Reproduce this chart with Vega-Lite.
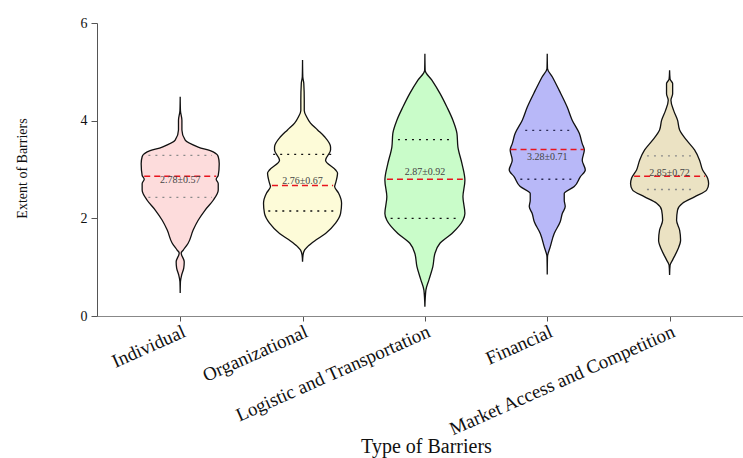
{
  "$schema": "https://vega.github.io/schema/vega-lite/v6.json",
  "autosize": {"type": "none"},
  "padding": {"left": 97, "top": 23, "right": 0, "bottom": 142},
  "width": 646,
  "height": 293,
  "background": "white",
  "config": {
    "view": {"stroke": null},
    "font": "Liberation Serif",
    "axis": {"grid": false, "labelFont": "Liberation Serif", "titleFont": "Liberation Serif", "labelColor": "#111", "titleColor": "#111", "titleFontWeight": "normal"}
  },
  "datasets": {
    "violin": [
      {"b": "Individual", "v": 0.47, "w": 0},
      {"b": "Individual", "v": 0.70, "w": 0.002},
      {"b": "Individual", "v": 0.84, "w": 0.012},
      {"b": "Individual", "v": 0.98, "w": 0.029},
      {"b": "Individual", "v": 1.11, "w": 0.033},
      {"b": "Individual", "v": 1.29, "w": 0.008},
      {"b": "Individual", "v": 1.35, "w": 0.025},
      {"b": "Individual", "v": 1.49, "w": 0.065},
      {"b": "Individual", "v": 1.76, "w": 0.106},
      {"b": "Individual", "v": 1.96, "w": 0.147},
      {"b": "Individual", "v": 2.17, "w": 0.204},
      {"b": "Individual", "v": 2.37, "w": 0.27},
      {"b": "Individual", "v": 2.58, "w": 0.311},
      {"b": "Individual", "v": 2.71, "w": 0.311},
      {"b": "Individual", "v": 2.80, "w": 0.294},
      {"b": "Individual", "v": 2.88, "w": 0.311},
      {"b": "Individual", "v": 3.12, "w": 0.319},
      {"b": "Individual", "v": 3.26, "w": 0.311},
      {"b": "Individual", "v": 3.36, "w": 0.27},
      {"b": "Individual", "v": 3.46, "w": 0.147},
      {"b": "Individual", "v": 3.60, "w": 0.041},
      {"b": "Individual", "v": 3.81, "w": 0.014},
      {"b": "Individual", "v": 4.01, "w": 0.014},
      {"b": "Individual", "v": 4.21, "w": 0.002},
      {"b": "Individual", "v": 4.49, "w": 0},
      {"b": "Organizational", "v": 1.11, "w": 0},
      {"b": "Organizational", "v": 1.25, "w": 0.004},
      {"b": "Organizational", "v": 1.35, "w": 0.016},
      {"b": "Organizational", "v": 1.42, "w": 0.041},
      {"b": "Organizational", "v": 1.55, "w": 0.106},
      {"b": "Organizational", "v": 1.69, "w": 0.188},
      {"b": "Organizational", "v": 1.90, "w": 0.27},
      {"b": "Organizational", "v": 2.10, "w": 0.311},
      {"b": "Organizational", "v": 2.31, "w": 0.319},
      {"b": "Organizational", "v": 2.52, "w": 0.294},
      {"b": "Organizational", "v": 2.65, "w": 0.262},
      {"b": "Organizational", "v": 2.72, "w": 0.27},
      {"b": "Organizational", "v": 2.93, "w": 0.286},
      {"b": "Organizational", "v": 2.99, "w": 0.27},
      {"b": "Organizational", "v": 3.19, "w": 0.188},
      {"b": "Organizational", "v": 3.40, "w": 0.229},
      {"b": "Organizational", "v": 3.46, "w": 0.229},
      {"b": "Organizational", "v": 3.67, "w": 0.18},
      {"b": "Organizational", "v": 3.81, "w": 0.123},
      {"b": "Organizational", "v": 3.95, "w": 0.065},
      {"b": "Organizational", "v": 4.08, "w": 0.033},
      {"b": "Organizational", "v": 4.21, "w": 0.014},
      {"b": "Organizational", "v": 4.42, "w": 0.014},
      {"b": "Organizational", "v": 4.77, "w": 0.01},
      {"b": "Organizational", "v": 4.90, "w": 0.002},
      {"b": "Organizational", "v": 5.24, "w": 0},
      {"b": "Logistic and Transportation", "v": 0.19, "w": 0},
      {"b": "Logistic and Transportation", "v": 0.53, "w": 0.008},
      {"b": "Logistic and Transportation", "v": 0.74, "w": 0.033},
      {"b": "Logistic and Transportation", "v": 1.01, "w": 0.065},
      {"b": "Logistic and Transportation", "v": 1.28, "w": 0.082},
      {"b": "Logistic and Transportation", "v": 1.49, "w": 0.123},
      {"b": "Logistic and Transportation", "v": 1.69, "w": 0.221},
      {"b": "Logistic and Transportation", "v": 1.96, "w": 0.311},
      {"b": "Logistic and Transportation", "v": 2.10, "w": 0.327},
      {"b": "Logistic and Transportation", "v": 2.44, "w": 0.311},
      {"b": "Logistic and Transportation", "v": 2.78, "w": 0.327},
      {"b": "Logistic and Transportation", "v": 3.12, "w": 0.303},
      {"b": "Logistic and Transportation", "v": 3.46, "w": 0.27},
      {"b": "Logistic and Transportation", "v": 3.74, "w": 0.262},
      {"b": "Logistic and Transportation", "v": 4.01, "w": 0.229},
      {"b": "Logistic and Transportation", "v": 4.28, "w": 0.18},
      {"b": "Logistic and Transportation", "v": 4.56, "w": 0.123},
      {"b": "Logistic and Transportation", "v": 4.83, "w": 0.057},
      {"b": "Logistic and Transportation", "v": 5.03, "w": 0.002},
      {"b": "Logistic and Transportation", "v": 5.37, "w": 0},
      {"b": "Financial", "v": 0.85, "w": 0},
      {"b": "Financial", "v": 1.21, "w": 0.002},
      {"b": "Financial", "v": 1.42, "w": 0.025},
      {"b": "Financial", "v": 1.69, "w": 0.057},
      {"b": "Financial", "v": 1.93, "w": 0.106},
      {"b": "Financial", "v": 2.10, "w": 0.123},
      {"b": "Financial", "v": 2.24, "w": 0.147},
      {"b": "Financial", "v": 2.37, "w": 0.139},
      {"b": "Financial", "v": 2.51, "w": 0.139},
      {"b": "Financial", "v": 2.65, "w": 0.221},
      {"b": "Financial", "v": 2.85, "w": 0.27},
      {"b": "Financial", "v": 2.99, "w": 0.311},
      {"b": "Financial", "v": 3.19, "w": 0.286},
      {"b": "Financial", "v": 3.40, "w": 0.303},
      {"b": "Financial", "v": 3.53, "w": 0.286},
      {"b": "Financial", "v": 3.74, "w": 0.262},
      {"b": "Financial", "v": 4.01, "w": 0.204},
      {"b": "Financial", "v": 4.28, "w": 0.163},
      {"b": "Financial", "v": 4.62, "w": 0.098},
      {"b": "Financial", "v": 4.90, "w": 0.041},
      {"b": "Financial", "v": 5.07, "w": 0.002},
      {"b": "Financial", "v": 5.37, "w": 0},
      {"b": "Market Access and Competition", "v": 0.84, "w": 0},
      {"b": "Market Access and Competition", "v": 1.04, "w": 0.004},
      {"b": "Market Access and Competition", "v": 1.15, "w": 0.025},
      {"b": "Market Access and Competition", "v": 1.35, "w": 0.065},
      {"b": "Market Access and Competition", "v": 1.55, "w": 0.09},
      {"b": "Market Access and Competition", "v": 1.76, "w": 0.082},
      {"b": "Market Access and Competition", "v": 1.96, "w": 0.057},
      {"b": "Market Access and Competition", "v": 2.17, "w": 0.065},
      {"b": "Market Access and Competition", "v": 2.31, "w": 0.106},
      {"b": "Market Access and Competition", "v": 2.44, "w": 0.204},
      {"b": "Market Access and Competition", "v": 2.58, "w": 0.303},
      {"b": "Market Access and Competition", "v": 2.71, "w": 0.319},
      {"b": "Market Access and Competition", "v": 2.82, "w": 0.311},
      {"b": "Market Access and Competition", "v": 2.99, "w": 0.27},
      {"b": "Market Access and Competition", "v": 3.19, "w": 0.245},
      {"b": "Market Access and Competition", "v": 3.40, "w": 0.204},
      {"b": "Market Access and Competition", "v": 3.60, "w": 0.139},
      {"b": "Market Access and Competition", "v": 3.81, "w": 0.082},
      {"b": "Market Access and Competition", "v": 4.01, "w": 0.065},
      {"b": "Market Access and Competition", "v": 4.21, "w": 0.033},
      {"b": "Market Access and Competition", "v": 4.42, "w": 0.011},
      {"b": "Market Access and Competition", "v": 4.55, "w": 0.025},
      {"b": "Market Access and Competition", "v": 4.76, "w": 0.025},
      {"b": "Market Access and Competition", "v": 4.85, "w": 0.004},
      {"b": "Market Access and Competition", "v": 5.03, "w": 0}
    ],
    "quart": [
      {"b": "Individual", "q": "Q1", "v": 2.43, "w": 0.26},
      {"b": "Individual", "q": "Q3", "v": 3.29, "w": 0.26},
      {"b": "Organizational", "q": "Q1", "v": 2.15, "w": 0.28},
      {"b": "Organizational", "q": "Q3", "v": 3.31, "w": 0.24},
      {"b": "Logistic and Transportation", "q": "Q1", "v": 2.00, "w": 0.28},
      {"b": "Logistic and Transportation", "q": "Q3", "v": 3.61, "w": 0.22},
      {"b": "Financial", "q": "Q1", "v": 2.80, "w": 0.22},
      {"b": "Financial", "q": "Q3", "v": 3.80, "w": 0.18},
      {"b": "Market Access and Competition", "q": "Q1", "v": 2.59, "w": 0.185},
      {"b": "Market Access and Competition", "q": "Q3", "v": 3.28, "w": 0.185}
    ],
    "median": [
      {"b": "Individual", "v": 2.86, "w": 0.294},
      {"b": "Organizational", "v": 2.67, "w": 0.25},
      {"b": "Logistic and Transportation", "v": 2.80, "w": 0.31},
      {"b": "Financial", "v": 3.41, "w": 0.30},
      {"b": "Market Access and Competition", "v": 2.86, "w": 0.29}
    ],
    "stats": [
      {"b": "Individual", "mean": 2.78, "label": "2.78±0.57"},
      {"b": "Organizational", "mean": 2.76, "label": "2.76±0.67"},
      {"b": "Logistic and Transportation", "mean": 2.95, "label": "2.87±0.92"},
      {"b": "Financial", "mean": 3.25, "label": "3.28±0.71"},
      {"b": "Market Access and Competition", "mean": 2.92, "label": "2.85±0.72"}
    ]
  },
  "layer": [
    {
      "data": {"name": "violin"},
      "transform": [
        {"calculate": "indexof(['Individual','Organizational','Logistic and Transportation','Financial','Market Access and Competition'], datum.b) + 1", "as": "pos"},
        {"calculate": "datum.pos - datum.w", "as": "lo"},
        {"calculate": "datum.pos + datum.w", "as": "hi"}
      ],
      "mark": {"type": "area", "orient": "horizontal", "interpolate": "monotone", "stroke": "#111", "strokeWidth": 1.3, "fillOpacity": 1},
      "encoding": {
        "y": {"field": "v", "type": "quantitative", "scale": {"domain": [0, 6], "nice": false, "zero": false},
          "axis": {"values": [0, 2, 4, 6], "title": "Extent of Barriers", "titleFontSize": 14, "titleX": -75, "titleY": 145, "titleAlign": "center", "titleBaseline": "middle", "labelFontSize": 14, "labelPadding": 4, "tickSize": 6, "domainColor": "#555", "tickColor": "#555"}},
        "x": {"field": "lo", "type": "quantitative", "scale": {"domain": [0.32, 5.6], "nice": false, "zero": false},
          "axis": {"values": [1, 2, 3, 4, 5], "labelExpr": "['','Individual','Organizational','Logistic and Transportation','Financial','Market Access and Competition'][datum.value]", "labelAngle": -24, "labelAlign": "right", "labelBaseline": "top", "labelFontSize": 19, "labelPadding": 1, "labelLimit": 0, "labelOverlap": false, "labelBound": false, "tickSize": 5, "domainColor": "#888", "tickColor": "#555", "title": "Type of Barriers", "titleFontSize": 20, "titleX": 329, "titleY": 130, "titleAlign": "center", "titleBaseline": "middle"}},
        "x2": {"field": "hi"},
        "fill": {"field": "b", "type": "nominal", "legend": null,
          "scale": {"domain": ["Individual", "Organizational", "Logistic and Transportation", "Financial", "Market Access and Competition"],
                    "range": ["#fddcdc", "#fdfbd8", "#c9fcc9", "#b8b8f8", "#ebe2c3"]}}
      }
    },
    {
      "data": {"name": "quart"},
      "transform": [
        {"calculate": "indexof(['Individual','Organizational','Logistic and Transportation','Financial','Market Access and Competition'], datum.b) + 1", "as": "pos"},
        {"calculate": "datum.pos - datum.w", "as": "lo"},
        {"calculate": "datum.pos + datum.w", "as": "hi"}
      ],
      "mark": {"type": "rule", "strokeDash": [2, 5], "strokeWidth": 1.3},
      "encoding": {
        "y": {"field": "v", "type": "quantitative"},
        "x": {"field": "lo", "type": "quantitative"},
        "x2": {"field": "hi"},
        "stroke": {"field": "b", "type": "nominal", "legend": null,
          "scale": {"domain": ["Individual", "Organizational", "Logistic and Transportation", "Financial", "Market Access and Competition"],
                    "range": ["#8a8a8a", "#111111", "#111111", "#2a2a55", "#8a8a8a"]}}
      }
    },
    {
      "data": {"name": "median"},
      "transform": [
        {"calculate": "indexof(['Individual','Organizational','Logistic and Transportation','Financial','Market Access and Competition'], datum.b) + 1", "as": "pos"},
        {"calculate": "datum.pos - datum.w", "as": "lo"},
        {"calculate": "datum.pos + datum.w", "as": "hi"}
      ],
      "mark": {"type": "rule", "color": "#e8141e", "strokeDash": [6, 4], "strokeWidth": 1.5},
      "encoding": {
        "y": {"field": "v", "type": "quantitative"},
        "x": {"field": "lo", "type": "quantitative"},
        "x2": {"field": "hi"}
      }
    },
    {
      "data": {"name": "stats"},
      "transform": [
        {"calculate": "indexof(['Individual','Organizational','Logistic and Transportation','Financial','Market Access and Competition'], datum.b) + 1", "as": "pos"}
      ],
      "mark": {"type": "text", "font": "Liberation Serif", "fontSize": 10, "color": "#444", "align": "center", "baseline": "middle"},
      "encoding": {
        "y": {"field": "mean", "type": "quantitative"},
        "x": {"field": "pos", "type": "quantitative"},
        "text": {"field": "label"}
      }
    }
  ]
}
